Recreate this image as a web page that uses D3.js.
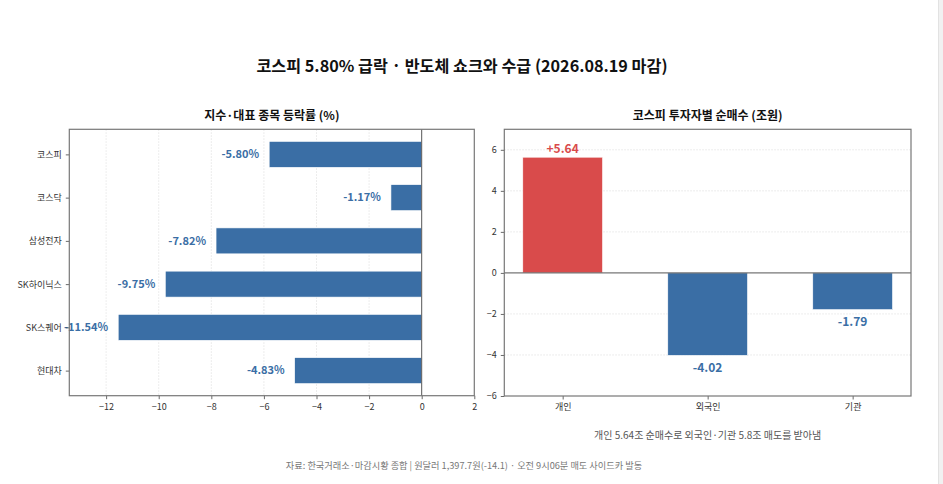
<!DOCTYPE html>
<html>
<head>
<meta charset="utf-8">
<script src="https://cdn.jsdelivr.net/npm/d3@7"></script>
<style>
  html, body { margin: 0; padding: 0; background: #fff; }
  body { width: 943px; height: 484px; overflow: hidden; position: relative; }
  #edge { position: absolute; left: 938px; top: 0; width: 5px; height: 484px; background: #f1f1f1; border-left: 1px solid #e2e2e2; }
  svg text { font-family: "Noto Sans CJK KR", "Noto Sans", sans-serif; }
</style>
</head>
<body>
<div id="edge"></div>
<script>
// left panel: 지수·대표 종목 등락률
const stocks = ["코스피", "코스닥", "삼성전자", "SK하이닉스", "SK스퀘어", "현대차"];
const changes = [-5.80, -1.17, -7.82, -9.75, -11.54, -4.83];
const xTicksLeft = [-12, -10, -8, -6, -4, -2, 0, 2];

// right panel: 투자자별 순매수
const investors = ["개인", "외국인", "기관"];
const netBuy = [5.64, -4.02, -1.79];
const yTicksRight = [-6, -4, -2, 0, 2, 4, 6];

const blue = "#3a6ea5", red = "#d94b4b";

const svg = d3.select("body").append("svg")
    .attr("width", 943).attr("height", 484)
    .style("position", "absolute").style("left", 0).style("top", 0);

svg.append("text")
    .attr("x", 462).attr("y", 72)
    .attr("text-anchor", "middle")
    .attr("font-size", 16.2).attr("font-weight", "bold").attr("fill", "#111")
    .text("코스피 5.80% 급락 · 반도체 쇼크와 수급 (2026.08.19 마감)");

// ---------- left ----------
const L = {x0: 69.3, x1: 474.3, y0: 129.3, y1: 395.7};
const xL = d3.scaleLinear().domain([-13.4, 2]).range([L.x0, L.x1]);
const yL = d3.scaleLinear().domain([-0.58, 5.58]).range([L.y0, L.y1]);
const gL = svg.append("g");

gL.append("text")
    .attr("x", (L.x0 + L.x1) / 2).attr("y", 120)
    .attr("text-anchor", "middle").attr("font-size", 12).attr("font-weight", "bold").attr("fill", "#111")
    .text("지수·대표 종목 등락률 (%)");

gL.selectAll(".grid").data(xTicksLeft.filter(t => t !== 0 && t !== 2))
    .join("line").attr("class", "grid")
    .attr("x1", d => xL(d)).attr("x2", d => xL(d))
    .attr("y1", L.y0).attr("y2", L.y1)
    .attr("stroke", "#ddd").attr("stroke-width", 0.7).attr("stroke-dasharray", "1.5,1.5");

gL.selectAll(".bar").data(changes)
    .join("rect").attr("class", "bar")
    .attr("x", d => xL(d)).attr("width", d => xL(0) - xL(d))
    .attr("y", (d, i) => yL(i - 0.3)).attr("height", yL(0.3) - yL(-0.3))
    .attr("fill", blue).attr("stroke", "#fff").attr("stroke-width", 0.6);

gL.selectAll(".val").data(changes)
    .join("text").attr("class", "val")
    .attr("x", d => xL(d) - 10).attr("y", (d, i) => yL(i))
    .attr("dy", "0.35em").attr("text-anchor", "end")
    .attr("font-size", 11).attr("font-weight", "bold").attr("fill", blue)
    .text(d => d.toFixed(2) + "%");

gL.append("line")
    .attr("x1", xL(0)).attr("x2", xL(0)).attr("y1", L.y0).attr("y2", L.y1)
    .attr("stroke", "#555").attr("stroke-width", 1);

gL.append("g").attr("transform", `translate(0,${L.y1})`)
    .call(d3.axisBottom(xL).tickValues(xTicksLeft).tickSize(3.5).tickPadding(4).tickFormat(d3.format("d")));
gL.append("g").attr("transform", `translate(${L.x0},0)`)
    .call(d3.axisLeft(yL).tickValues(d3.range(stocks.length)).tickSize(3.5).tickPadding(4).tickFormat(i => stocks[i]));

gL.append("rect").attr("x", L.x0).attr("y", L.y0)
    .attr("width", L.x1 - L.x0).attr("height", L.y1 - L.y0)
    .attr("fill", "none").attr("stroke", "#777").attr("stroke-width", 1.2);

// ---------- right ----------
const R = {x0: 504.3, x1: 911, y0: 129.3, y1: 396};
const xR = d3.scaleLinear().domain([-0.4025, 2.4025]).range([R.x0, R.x1]);
const yR = d3.scaleLinear().domain([-6, 7]).range([R.y1, R.y0]);
const gR = svg.append("g");

gR.append("text")
    .attr("x", (R.x0 + R.x1) / 2).attr("y", 120)
    .attr("text-anchor", "middle").attr("font-size", 12).attr("font-weight", "bold").attr("fill", "#111")
    .text("코스피 투자자별 순매수 (조원)");

gR.selectAll(".grid").data(yTicksRight.filter(t => t !== 0 && t !== -6))
    .join("line").attr("class", "grid")
    .attr("x1", R.x0).attr("x2", R.x1)
    .attr("y1", d => yR(d)).attr("y2", d => yR(d))
    .attr("stroke", "#ddd").attr("stroke-width", 0.7).attr("stroke-dasharray", "1.5,1.5");

gR.selectAll(".bar").data(netBuy)
    .join("rect").attr("class", "bar")
    .attr("x", (d, i) => xR(i - 0.275)).attr("width", xR(0.275) - xR(-0.275))
    .attr("y", d => yR(Math.max(d, 0))).attr("height", d => Math.abs(yR(d) - yR(0)))
    .attr("fill", d => d > 0 ? red : blue).attr("stroke", "#fff").attr("stroke-width", 0.6);

gR.selectAll(".val").data(netBuy)
    .join("text").attr("class", "val")
    .attr("x", (d, i) => xR(i))
    .attr("y", d => d > 0 ? yR(d) - 8 : yR(d) + 12)
    .attr("dy", "0.35em").attr("text-anchor", "middle")
    .attr("font-size", 12).attr("font-weight", "bold")
    .attr("fill", d => d > 0 ? red : blue)
    .text(d => (d > 0 ? "+" : "") + d.toFixed(2));

gR.append("line")
    .attr("x1", R.x0).attr("x2", R.x1).attr("y1", yR(0)).attr("y2", yR(0))
    .attr("stroke", "#555").attr("stroke-width", 1);

gR.append("g").attr("transform", `translate(0,${R.y1})`)
    .call(d3.axisBottom(xR).tickValues(d3.range(investors.length)).tickSize(3.5).tickPadding(4).tickFormat(i => investors[i]));
gR.append("g").attr("transform", `translate(${R.x0},0)`)
    .call(d3.axisLeft(yR).tickValues(yTicksRight).tickSize(3.5).tickPadding(4).tickFormat(d3.format("d")));

gR.append("rect").attr("x", R.x0).attr("y", R.y0)
    .attr("width", R.x1 - R.x0).attr("height", R.y1 - R.y0)
    .attr("fill", "none").attr("stroke", "#777").attr("stroke-width", 1.2);

gR.append("text")
    .attr("x", (R.x0 + R.x1) / 2).attr("y", 439)
    .attr("text-anchor", "middle").attr("font-size", 10).attr("fill", "#555")
    .text("개인 5.64조 순매수로 외국인·기관 5.8조 매도를 받아냄");

// axis styling
svg.selectAll(".domain").remove();
svg.selectAll(".tick line").attr("stroke", "#444").attr("stroke-width", 0.8);
svg.selectAll(".tick text").attr("fill", "#333").attr("font-size", 9)
    .style("font-family", "'Noto Sans CJK KR', 'Noto Sans', sans-serif");

svg.append("text")
    .attr("x", 464).attr("y", 469)
    .attr("text-anchor", "middle").attr("font-size", 9.2).attr("fill", "#777")
    .text("자료: 한국거래소·마감시황 종합 | 원달러 1,397.7원(-14.1) · 오전 9시06분 매도 사이드카 발동");
</script>
</body>
</html>
